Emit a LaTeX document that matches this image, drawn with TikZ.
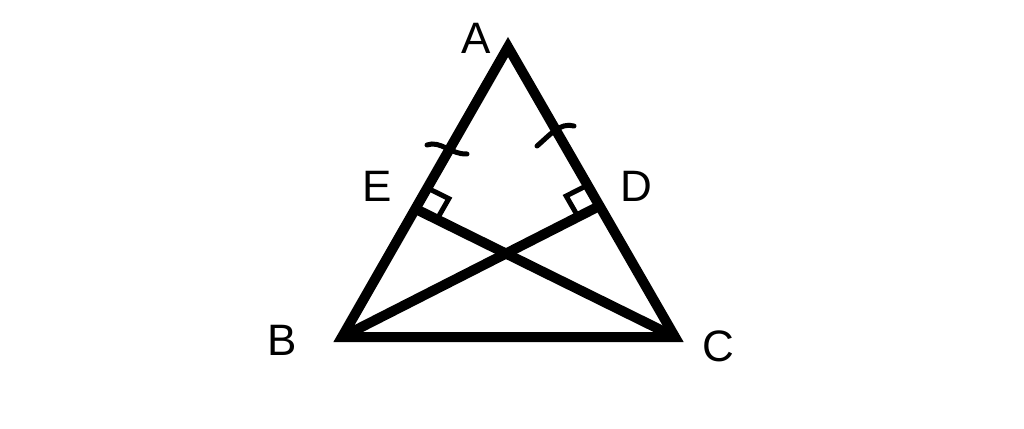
\documentclass[tikz,border=0pt]{standalone}
\usepackage{fontspec}
\setmainfont{Liberation Sans}
\usetikzlibrary{calc}
\tikzset{
  thick edge/.style={line width=10pt},
  mark line/.style={line width=5pt, line cap=round},
  lbl/.style={font=\fontsize{44}{44}\selectfont, inner sep=0pt}
}
\begin{document}
\begin{tikzpicture}[x=1pt,y=-1pt]
\useasboundingbox (0,0) rectangle (1024,428);
\coordinate (A) at (508,47);
\coordinate (B) at (342,337);
\coordinate (C) at (675,337);
\coordinate (E) at ($(A)!0.558!(B)$);
\coordinate (D) at ($(A)!0.548!(C)$);
\draw[thick edge] (A) -- (B) -- (C) -- cycle;
\draw[thick edge] (E) -- (C);
\draw[thick edge] (D) -- (B);
% right angle marks
\coordinate (E1) at ($(E)!24pt!(A)$);
\coordinate (E2) at ($(E)!24pt!(C)$);
\draw[mark line, line cap=butt] (E1) -- ($(E1)+(E2)-(E)$) -- (E2);
\coordinate (D1) at ($(D)!24pt!(A)$);
\coordinate (D2) at ($(D)!24pt!(B)$);
\draw[mark line, line cap=butt] (D1) -- ($(D1)+(D2)-(D)$) -- (D2);
% equal ticks
\coordinate (t1a) at (427,145);
\coordinate (t1b) at (467,154);
\draw[mark line] (t1a) .. controls (440,140) and (452,155) .. (t1b);
\coordinate (t2a) at (537,146);
\coordinate (t2b) at (574,126);
\draw[mark line] (t2a) .. controls (550,135) and (560,122) .. (t2b);
% labels
\node[lbl] (lA) at (476,38) {A};
\node[lbl] (lE) at (377,186) {E};
\node[lbl] (lD) at (636,186) {D};
\node[lbl] (lB) at (282,340) {B};
\node[lbl] (lC) at (718,346) {C};
\end{tikzpicture}
\end{document}
